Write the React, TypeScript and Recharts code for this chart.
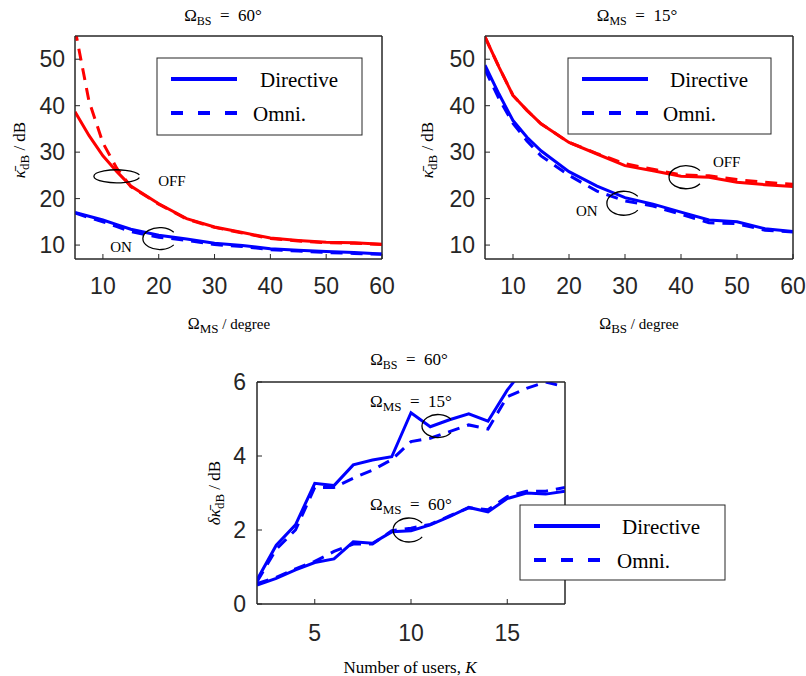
import React from "react";
import { LineChart, Line, XAxis, YAxis, ReferenceDot, ReferenceArea } from "recharts";

// swept beamwidth (degree) for the two upper panels
const angleX = [5, 7.5, 10, 12.5, 15, 20, 25, 30, 35, 40, 45, 50, 55, 60];
const angleTicks = [10, 20, 30, 40, 50, 60];
const kappaTicks = [10, 20, 30, 40, 50];

// left panel: Omega_BS = 60 deg, x = Omega_MS
const msOffDirective = [38.7, 33.6, 29.2, 25.8, 22.7, 18.9, 15.7, 13.9, 12.7, 11.5, 11.0, 10.6, 10.5, 10.2];
const msOffOmni = [56.5, 41.0, 32.0, 26.5, 22.6, 18.8, 15.6, 13.8, 12.6, 11.4, 10.9, 10.5, 10.4, 10.1];
const msOnDirective = [17.0, 16.2, 15.4, 14.4, 13.4, 12.1, 11.3, 10.4, 9.9, 9.2, 8.9, 8.6, 8.4, 8.1];
const msOnOmni = [16.9, 15.9, 15.0, 14.0, 12.9, 11.7, 11.0, 10.1, 9.7, 9.0, 8.7, 8.4, 8.2, 8.0];

// right panel: Omega_MS = 15 deg, x = Omega_BS
const bsOffDirective = [54.8, 48.3, 42.2, 39.0, 36.1, 32.1, 29.6, 27.1, 26.0, 24.8, 24.6, 23.5, 23.0, 22.6];
const bsOffOmni = [54.8, 48.3, 42.2, 39.0, 36.1, 32.1, 29.7, 27.5, 26.3, 25.1, 24.9, 24.1, 23.5, 23.1];
const bsOnDirective = [48.7, 42.5, 36.8, 33.2, 30.3, 25.8, 22.7, 20.2, 18.8, 17.1, 15.4, 15.0, 13.5, 12.9];
const bsOnOmni = [47.8, 41.5, 36.2, 32.4, 29.2, 25.0, 21.6, 19.5, 18.4, 16.6, 14.8, 14.6, 13.2, 12.8];

// bottom panel: Omega_BS = 60 deg, x = number of users K
const users = [2, 3, 4, 5, 6, 7, 8, 9, 10, 11, 12, 13, 14, 15, 16, 17, 18];
const userTicks = [5, 10, 15];
const deltaTicks = [0, 2, 4, 6];
const ms15Directive = [0.65, 1.59, 2.14, 3.26, 3.2, 3.76, 3.89, 3.98, 5.17, 4.79, 4.98, 5.14, 4.94, 5.78, 6.45, 6.6, 6.8];
const ms15Omni = [0.6, 1.48, 2.0, 3.15, 3.15, 3.4, 3.62, 3.9, 4.39, 4.48, 4.66, 4.84, 4.73, 5.6, 5.83, 6.0, 5.87];
const ms60Directive = [0.51, 0.69, 0.92, 1.12, 1.22, 1.68, 1.64, 1.95, 1.98, 2.14, 2.36, 2.61, 2.49, 2.85, 3.0, 2.97, 3.05];
const ms60Omni = [0.55, 0.72, 0.95, 1.15, 1.42, 1.62, 1.62, 1.98, 2.05, 2.15, 2.38, 2.6, 2.55, 2.9, 3.05, 3.05, 3.15];

const BLUE = "#0000ff";
const RED = "#ff0000";
const INK = "#262626";
const SERIF = "'Liberation Serif', 'Times New Roman', serif";
const SANS = "'Liberation Sans', Arial, sans-serif";

const leftData = angleX.map((x, i) => ({
  x,
  offDir: msOffDirective[i],
  offOmni: msOffOmni[i],
  onDir: msOnDirective[i],
  onOmni: msOnOmni[i],
}));

const rightData = angleX.map((x, i) => ({
  x,
  offDir: bsOffDirective[i],
  offOmni: bsOffOmni[i],
  onDir: bsOnDirective[i],
  onOmni: bsOnOmni[i],
}));

const userData = users.map((x, i) => ({
  x,
  d15: ms15Directive[i],
  o15: ms15Omni[i],
  d60: ms60Directive[i],
  o60: ms60Omni[i],
}));

type Series = { key: string; color: string; dashed?: boolean };

const angleSeries: Series[] = [
  { key: "offDir", color: RED },
  { key: "offOmni", color: RED, dashed: true },
  { key: "onDir", color: BLUE },
  { key: "onOmni", color: BLUE, dashed: true },
];

const userSeries: Series[] = [
  { key: "d15", color: BLUE },
  { key: "o15", color: BLUE, dashed: true },
  { key: "d60", color: BLUE },
  { key: "o60", color: BLUE, dashed: true },
];

// open ellipse ("C" shape) used to group the curves
const ring = (rx: number, ry: number, gap: number) => (p: any) => {
  const a = (gap * Math.PI) / 180;
  const x1 = p.cx + rx * Math.cos(a);
  const yA = p.cy + ry * Math.sin(a);
  const yB = p.cy - ry * Math.sin(a);
  return (
    <path
      d={`M${x1},${yA} A${rx},${ry} 0 1 1 ${x1},${yB}`}
      fill="none"
      stroke="#000"
      strokeWidth={1.3}
    />
  );
};

const word = (label: string) => (p: any) => (
  <text x={p.cx} y={p.cy} style={{ fontFamily: SERIF }} fontSize={15} fill="#000">
    {label}
  </text>
);

const omegaNote = (deg: string) => (p: any) => (
  <text x={p.cx} y={p.cy} style={{ fontFamily: SERIF }} fontSize={17} fill="#000">
    Ω
    <tspan fontSize={13} dy={4}>
      MS
    </tspan>
    <tspan dy={-4}>{"\u2002=\u2002" + deg + "°"}</tspan>
  </text>
);

type PanelProps = {
  data: any[];
  series: Series[];
  width: number;
  height: number;
  margin: { top: number; right: number; bottom: number; left: number };
  yWidth: number;
  xDomain: [number, number];
  xTicks: number[];
  yDomain: [number, number];
  yTicks: number[];
  xTickMargin: number;
  yTickMargin: number;
  children?: React.ReactNode;
};

function Panel(props: PanelProps) {
  const axisLine = { stroke: INK, strokeWidth: 1 };
  const tickStyle = { fontSize: 23, fill: INK, fontFamily: SANS };
  return (
    <LineChart width={props.width} height={props.height} data={props.data} margin={props.margin}>
      <XAxis
        dataKey="x"
        type="number"
        domain={props.xDomain}
        ticks={props.xTicks}
        interval={0}
        allowDataOverflow
        height={30}
        tickSize={-5}
        tickMargin={props.xTickMargin}
        axisLine={axisLine}
        tickLine={axisLine}
        tick={tickStyle}
      />
      <XAxis
        xAxisId="top"
        orientation="top"
        dataKey="x"
        type="number"
        domain={props.xDomain}
        ticks={props.xTicks}
        interval={0}
        allowDataOverflow
        height={1}
        tickSize={-5}
        axisLine={axisLine}
        tickLine={axisLine}
        tick={false}
      />
      <YAxis
        type="number"
        domain={props.yDomain}
        ticks={props.yTicks}
        interval={0}
        allowDataOverflow
        width={props.yWidth}
        tickSize={-5}
        tickMargin={props.yTickMargin}
        axisLine={axisLine}
        tickLine={axisLine}
        tick={tickStyle}
      />
      <YAxis
        yAxisId="right"
        orientation="right"
        type="number"
        domain={props.yDomain}
        ticks={props.yTicks}
        interval={0}
        allowDataOverflow
        width={1}
        tickSize={-5}
        axisLine={axisLine}
        tickLine={axisLine}
        tick={false}
      />
      <ReferenceArea
        x1={props.xDomain[0]}
        x2={props.xDomain[1]}
        y1={props.yDomain[0]}
        y2={props.yDomain[1]}
        fill="none"
        fillOpacity={0}
        stroke={INK}
        strokeWidth={1}
        ifOverflow="visible"
      />
      {props.series.map((s) => (
        <Line
          key={s.key}
          type="linear"
          dataKey={s.key}
          stroke={s.color}
          strokeWidth={3}
          strokeDasharray={s.dashed ? "12 8" : undefined}
          dot={false}
          activeDot={false}
          isAnimationActive={false}
        />
      ))}
      {props.children}
    </LineChart>
  );
}

function LegendBox({ x, y, w, h, textX }: { x: number; y: number; w: number; h: number; textX: [number, number] }) {
  return (
    <g>
      <rect x={x} y={y} width={w} height={h} fill="#fff" stroke={INK} strokeWidth={1} />
      <line x1={x + 14} x2={x + 80} y1={y + 21} y2={y + 21} stroke={BLUE} strokeWidth={4} />
      <line x1={x + 14} x2={x + 80} y1={y + 55} y2={y + 55} stroke={BLUE} strokeWidth={4} strokeDasharray="12 15" />
      <text x={textX[0]} y={y + 29} style={{ fontFamily: SERIF }} fontSize={21} fill="#000">
        Directive
      </text>
      <text x={textX[1]} y={y + 63} style={{ fontFamily: SERIF }} fontSize={21} fill="#000">
        Omni.
      </text>
    </g>
  );
}

function Title({ x, y, sub, rest }: { x: number; y: number; sub: string; rest: string }) {
  return (
    <text x={x} y={y} textAnchor="middle" style={{ fontFamily: SERIF }} fontSize={17} fill="#000">
      Ω
      <tspan fontSize={12} dy={4}>
        {sub}
      </tspan>
      <tspan dy={-4}>{"\u2002=\u2002" + rest}</tspan>
    </text>
  );
}

function AngleLabel({ x, y, sub }: { x: number; y: number; sub: string }) {
  return (
    <text x={x} y={y} textAnchor="middle" style={{ fontFamily: SERIF }} fontSize={16} fill="#000">
      Ω
      <tspan fontSize={13} dy={4}>
        {sub}
      </tspan>
      <tspan dy={-4} fontSize={15}>
        {" / degree"}
      </tspan>
    </text>
  );
}

function KappaLabel({ x, y, delta }: { x: number; y: number; delta?: boolean }) {
  return (
    <text
      transform={`translate(${x},${y}) rotate(-90)`}
      textAnchor="middle"
      style={{ fontFamily: SERIF }}
      fontSize={17}
      fill="#000"
    >
      <tspan fontStyle="italic">{(delta ? "δ" : "") + "κ\u0304"}</tspan>
      <tspan fontSize={13} dy={4}>
        dB
      </tspan>
      <tspan dy={-4}>{" / dB"}</tspan>
    </text>
  );
}

export default function App() {
  return (
    <div style={{ position: "absolute", left: 0, top: 0, width: 806, height: 676, background: "#fff" }}>
      <div style={{ position: "absolute", left: 0, top: 0 }}>
        <Panel
          data={leftData}
          series={angleSeries}
          width={400}
          height={330}
          margin={{ top: 35, right: 17, bottom: 41, left: 0 }}
          yWidth={75}
          xDomain={[5, 60]}
          xTicks={angleTicks}
          yDomain={[7, 55]}
          yTicks={kappaTicks}
          xTickMargin={24}
          yTickMargin={15}
        >
          <ReferenceDot x={12.5} y={24.8} r={1} ifOverflow="visible" shape={ring(23, 6.5, 12)} />
          <ReferenceDot x={19.9} y={22.7} r={1} ifOverflow="visible" shape={word("OFF")} />
          <ReferenceDot x={20.2} y={11.4} r={1} ifOverflow="visible" shape={ring(17, 11, 35)} />
          <ReferenceDot x={11.3} y={8.6} r={1} ifOverflow="visible" shape={word("ON")} />
        </Panel>
      </div>
      <div style={{ position: "absolute", left: 400, top: 0 }}>
        <Panel
          data={rightData}
          series={angleSeries}
          width={406}
          height={330}
          margin={{ top: 35, right: 12, bottom: 41, left: 0 }}
          yWidth={85}
          xDomain={[5, 60]}
          xTicks={angleTicks}
          yDomain={[7, 55]}
          yTicks={kappaTicks}
          xTickMargin={24}
          yTickMargin={15}
        >
          <ReferenceDot x={40.9} y={24.6} r={1} ifOverflow="visible" shape={ring(17, 11.5, 35)} />
          <ReferenceDot x={45.7} y={26.8} r={1} ifOverflow="visible" shape={word("OFF")} />
          <ReferenceDot x={29.8} y={19.0} r={1} ifOverflow="visible" shape={ring(17, 12, 35)} />
          <ReferenceDot x={21.25} y={16.2} r={1} ifOverflow="visible" shape={word("ON")} />
        </Panel>
      </div>
      <div style={{ position: "absolute", left: 170, top: 340 }}>
        <Panel
          data={userData}
          series={userSeries}
          width={420}
          height={336}
          margin={{ top: 41, right: 24, bottom: 42, left: 0 }}
          yWidth={87}
          xDomain={[2, 18]}
          xTicks={userTicks}
          yDomain={[0, 6]}
          yTicks={deltaTicks}
          xTickMargin={26}
          yTickMargin={16}
        >
          <ReferenceDot x={11.4} y={4.81} r={1} ifOverflow="visible" shape={ring(16, 11.5, 35)} />
          <ReferenceDot x={7.87} y={5.32} r={1} ifOverflow="visible" shape={omegaNote("15")} />
          <ReferenceDot x={9.9} y={2.0} r={1} ifOverflow="visible" shape={ring(16, 12, 35)} />
          <ReferenceDot x={7.87} y={2.54} r={1} ifOverflow="visible" shape={omegaNote("60")} />
        </Panel>
      </div>
      <svg
        width={806}
        height={676}
        style={{ position: "absolute", left: 0, top: 0, pointerEvents: "none", fontFamily: SERIF }}
      >
        <Title x={223} y={21} sub="BS" rest="60°" />
        <Title x={637} y={21} sub="MS" rest="15°" />
        <Title x={409} y={365} sub="BS" rest="60°" />
        <AngleLabel x={229} y={329} sub="MS" />
        <AngleLabel x={639} y={329} sub="BS" />
        <text x={410} y={673} textAnchor="middle" style={{ fontFamily: SERIF }} fontSize={17} fill="#000">
          Number of users,{" "}
          <tspan fontStyle="italic">K</tspan>
        </text>
        <KappaLabel x={25} y={150} />
        <KappaLabel x={433} y={150} />
        <KappaLabel x={220} y={493} delta />
        <LegendBox x={157} y={58} w={205} h={77} textX={[260, 253]} />
        <LegendBox x={568} y={58} w={203} h={76} textX={[670, 663]} />
        <LegendBox x={520} y={505} w={205} h={75} textX={[622, 617]} />
      </svg>
    </div>
  );
}
